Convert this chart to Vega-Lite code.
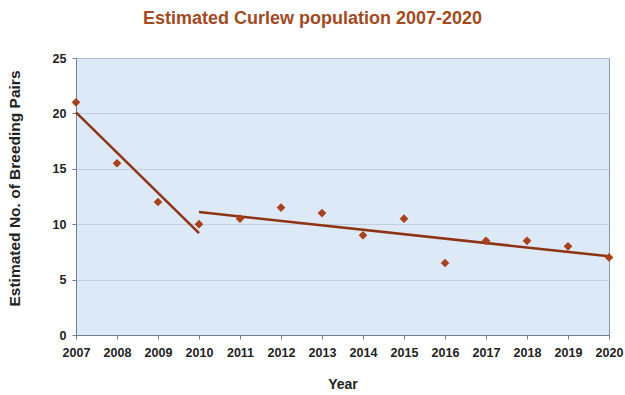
{
  "$schema": "https://vega.github.io/schema/vega-lite/v6.json",
  "autosize": {"type": "none"},
  "width": 533,
  "height": 277,
  "padding": {"left": 76, "top": 58, "right": 16, "bottom": 60},
  "background": "white",
  "title": {
    "text": "Estimated Curlew population 2007-2020",
    "font": "Liberation Sans",
    "fontSize": 18,
    "fontWeight": "bold",
    "color": "#a24a22",
    "anchor": "middle",
    "dx": -30,
    "offset": 24
  },
  "config": {
    "view": {"fill": "#dde9f7", "stroke": "#8796aa", "strokeWidth": 1},
    "axis": {
      "labelFont": "Liberation Sans",
      "labelFontWeight": "bold",
      "labelFontSize": 12.5,
      "labelColor": "#222222",
      "titleFont": "Liberation Sans",
      "titleFontWeight": "bold",
      "titleFontSize": 14,
      "titleColor": "#222222",
      "domainColor": "#6f7f94",
      "tickColor": "#6f7f94",
      "tickSize": 4
    }
  },
  "datasets": {
    "pts": [
      {"year": 2007, "pairs": 21},
      {"year": 2008, "pairs": 15.5},
      {"year": 2009, "pairs": 12},
      {"year": 2010, "pairs": 10},
      {"year": 2011, "pairs": 10.5},
      {"year": 2012, "pairs": 11.5},
      {"year": 2013, "pairs": 11},
      {"year": 2014, "pairs": 9},
      {"year": 2015, "pairs": 10.5},
      {"year": 2016, "pairs": 6.5},
      {"year": 2017, "pairs": 8.5},
      {"year": 2018, "pairs": 8.5},
      {"year": 2019, "pairs": 8},
      {"year": 2020, "pairs": 7}
    ],
    "trend": [
      {"seg": "A", "year": 2007, "pairs": 20.1},
      {"seg": "A", "year": 2010, "pairs": 9.2},
      {"seg": "B", "year": 2010, "pairs": 11.1},
      {"seg": "B", "year": 2020, "pairs": 7.1}
    ]
  },
  "layer": [
    {
      "data": {"name": "trend"},
      "mark": {"type": "line", "color": "#8e3415", "strokeWidth": 2.5},
      "encoding": {
        "x": {
          "field": "year", "type": "quantitative",
          "scale": {"domain": [2007, 2020], "nice": false, "zero": false},
          "axis": {
            "title": "Year", "values": [2007,2008,2009,2010,2011,2012,2013,2014,2015,2016,2017,2018,2019,2020],
            "format": "d", "grid": false, "labelPadding": 7, "titlePadding": 19, "labelFlush": false
          }
        },
        "y": {
          "field": "pairs", "type": "quantitative",
          "scale": {"domain": [0, 25], "nice": false},
          "axis": {
            "title": "Estimated No. of Breeding Pairs", "values": [0,5,10,15,20,25],
            "grid": true, "gridColor": "#b9c9dc", "gridWidth": 0.8,
            "labelPadding": 6,
            "titleFontSize": 15.5,
            "titleX": -62, "titleY": 130, "titleAlign": "center", "titleBaseline": "middle", "titleAngle": 270
          }
        },
        "detail": {"field": "seg"}
      }
    },
    {
      "data": {"name": "pts"},
      "mark": {"type": "point", "shape": "diamond", "filled": true, "color": "#a8421c", "size": 75, "opacity": 1},
      "encoding": {
        "x": {"field": "year", "type": "quantitative"},
        "y": {"field": "pairs", "type": "quantitative"}
      }
    }
  ]
}
